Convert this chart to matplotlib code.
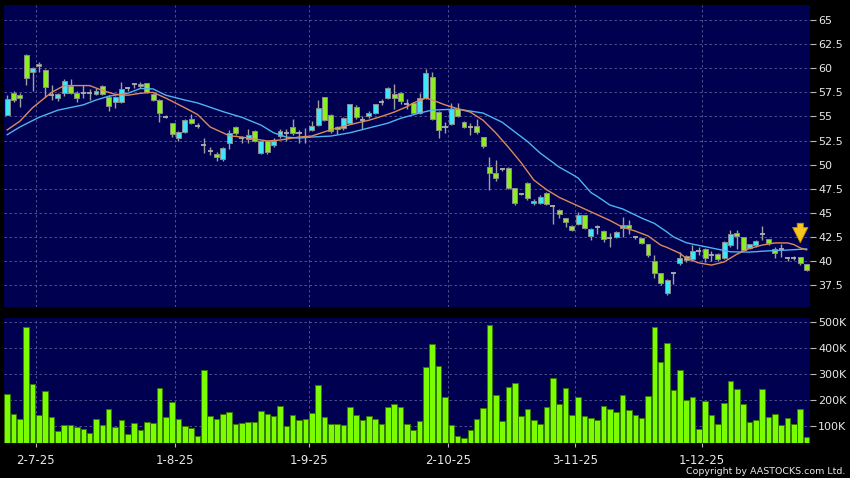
import matplotlib
matplotlib.use('Agg')
import matplotlib.pyplot as plt
import numpy as np
from matplotlib.ticker import FuncFormatter

# daily candles, 25-6-25 .. 24-12-25 (index 0 .. 126)
opens = [55.15, 57.45, 57.2, 61.4, 59.6, 60.4, 59.8, 57.2, 56.9, 57.4,
         58.18, 57.45, 57.4, 57.4, 57.29, 58.18, 57.04, 56.52, 56.45, 57.98,
         58.36, 58.18, 58.43, 57.29, 56.7, 54.95, 54.28, 52.79, 53.41, 54.73,
         54.05, 52.0, 51.44, 51.06, 50.54, 52.27, 53.93, 52.72, 52.68, 53.48,
         51.17, 52.44, 51.99, 52.96, 53.3, 53.86, 53.24, 52.83, 53.58, 54.1,
         56.97, 55.14, 53.93, 53.76, 54.34, 56.0, 54.62, 55.07, 55.32, 56.52,
         56.87, 57.32, 57.39, 56.25, 56.35, 55.38, 56.87, 59.05, 55.49, 53.93,
         54.2, 55.73, 54.45, 53.86, 54.03, 52.83, 49.71, 49.16, 49.5, 49.61,
         47.53, 47.0, 48.1, 45.98, 45.98, 47.08, 45.7, 45.3, 44.45, 43.62,
         43.83, 44.73, 42.58, 43.5, 43.14, 42.35, 42.51, 43.4, 43.68, 42.45,
         42.35, 41.72, 39.95, 38.71, 36.7, 38.71, 39.75, 40.51, 40.17, 41.06,
         41.2, 40.6, 40.69, 40.27, 41.65, 42.86, 42.45, 41.31, 41.65, 42.79,
         42.24, 41.2, 41.2, 40.3, 40.35, 40.37, 39.65]
highs = [57.2, 57.6, 57.4, 61.45, 60.1, 60.6, 59.9, 58.25, 57.4, 58.9,
         58.9, 57.6, 58.25, 57.8, 57.9, 58.3, 57.2, 57.1, 58.6, 58.1,
         58.5, 58.6, 58.5, 57.4, 56.8, 55.1, 54.3, 53.5, 54.7, 55.3,
         54.3, 52.8, 51.85, 51.3, 51.8, 53.6, 54.0, 53.0, 53.7, 53.6,
         52.5, 52.6, 52.8, 53.7, 53.7, 54.7, 53.6, 53.8, 54.5, 56.7,
         57.0, 55.2, 54.0, 54.9, 56.3, 56.2, 55.0, 55.6, 56.3, 56.8,
         58.1, 58.4, 57.5, 56.8, 56.4, 57.4, 59.9, 59.6, 55.6, 54.4,
         56.4, 56.4, 54.5, 54.3, 54.7, 52.9, 50.8, 50.5, 49.6, 49.7,
         47.6, 47.1, 48.2, 46.4, 46.8, 47.2, 45.8, 45.4, 44.5, 43.7,
         45.1, 44.8, 43.4, 43.7, 43.2, 42.9, 43.1, 44.6, 44.3, 42.6,
         42.4, 41.8, 40.6, 38.8, 38.1, 38.9, 40.9, 40.6, 41.7, 41.4,
         41.3, 41.0, 40.8, 42.1, 43.2, 43.2, 42.5, 41.8, 42.2, 43.6,
         42.3, 41.5, 41.8, 40.4, 40.5, 40.4, 39.7]
lows = [55.1, 56.5, 56.0, 58.25, 57.6, 59.6, 57.0, 56.7, 56.6, 57.1,
        57.3, 56.5, 56.9, 56.7, 57.2, 57.2, 55.6, 55.9, 56.4, 57.6,
        57.9, 57.9, 57.4, 56.6, 54.45, 54.8, 52.9, 52.5, 53.3, 54.2,
        53.8, 51.2, 51.0, 50.4, 50.4, 51.6, 53.1, 52.2, 52.2, 52.3,
        51.1, 51.1, 51.8, 52.8, 52.5, 53.1, 52.2, 52.2, 53.5, 54.0,
        54.5, 53.3, 53.2, 53.6, 54.2, 54.7, 53.7, 54.8, 55.2, 56.2,
        56.8, 55.8, 56.3, 55.8, 55.3, 55.2, 56.8, 54.6, 52.8, 53.3,
        54.1, 54.9, 53.8, 53.1, 53.2, 51.7, 47.4, 48.3, 49.3, 47.5,
        45.8, 46.8, 46.3, 45.8, 45.9, 45.8, 43.8, 44.5, 43.5, 43.1,
        43.7, 43.3, 42.2, 42.8, 42.0, 41.5, 42.4, 42.5, 42.8, 42.3,
        41.8, 40.4, 38.2, 37.5, 36.5, 37.6, 39.6, 39.9, 40.0, 40.6,
        39.9, 40.0, 40.0, 40.2, 41.5, 41.2, 41.0, 41.2, 41.5, 42.2,
        41.7, 40.3, 40.4, 40.0, 40.1, 39.6, 39.0]
closes = [56.85, 56.7, 56.9, 58.95, 60.0, 60.25, 58.1, 57.2, 57.3, 58.67,
          57.39, 56.87, 57.4, 57.4, 57.67, 57.29, 56.08, 56.97, 57.8, 57.98,
          58.36, 58.36, 57.5, 56.7, 55.32, 54.95, 53.14, 53.41, 54.59, 54.28,
          54.05, 52.0, 51.44, 50.75, 51.68, 53.24, 53.24, 52.72, 53.03, 52.44,
          52.44, 51.33, 52.44, 53.48, 53.3, 53.24, 53.24, 52.83, 54.0, 55.83,
          54.62, 53.48, 53.66, 54.8, 56.25, 54.97, 54.62, 55.32, 56.25, 56.52,
          57.9, 56.87, 56.63, 56.25, 55.38, 56.87, 59.47, 54.69, 53.58, 53.93,
          55.73, 55.04, 53.93, 53.86, 53.38, 51.96, 49.09, 48.57, 49.5, 47.6,
          45.98, 47.0, 46.5, 46.25, 46.66, 45.9, 45.7, 44.87, 44.07, 43.21,
          44.76, 43.38, 43.28, 43.5, 42.24, 42.35, 43.0, 43.68, 43.47, 42.45,
          41.89, 40.61, 38.71, 37.67, 38.02, 38.71, 40.27, 40.09, 41.03, 41.06,
          40.27, 40.6, 40.17, 41.99, 42.76, 42.58, 41.13, 41.72, 42.1, 42.79,
          41.83, 40.85, 41.2, 40.3, 40.35, 39.75, 39.06]
# volume in thousands of shares
volumes = [223, 147, 128, 482, 261, 141, 235, 134, 82, 103,
           103, 96, 90, 74, 127, 104, 166, 97, 124, 70,
           110, 85, 117, 112, 245, 136, 193, 127, 100, 93,
           61, 315, 137, 127, 145, 154, 109, 110, 117, 114,
           159, 147, 139, 178, 101, 144, 123, 126, 151, 259,
           136, 106, 106, 105, 175, 142, 122, 139, 128, 109,
           173, 184, 175, 109, 86, 119, 329, 417, 333, 212,
           103, 63, 52, 85, 128, 170, 490, 220, 119, 249,
           265, 140, 166, 122, 108, 172, 284, 185, 247, 141,
           211, 137, 130, 123, 176, 166, 154, 220, 161, 141,
           132, 216, 482, 348, 419, 238, 317, 202, 211, 87,
           198, 141, 108, 188, 275, 243, 184, 114, 124, 244,
           134, 146, 103, 130, 109, 167, 56]

# moving averages (day index, value)
ma10_days = [0, 2, 4, 7, 9, 13, 15, 17, 19, 21, 23, 25, 28, 30, 32, 35, 37, 39,
             41, 43, 46, 48, 50, 52, 55, 57, 59, 61, 63, 64, 66, 67, 69, 71, 73,
             75, 77, 79, 81, 83, 85, 87, 90, 92, 95, 97, 99, 101, 103, 104, 106,
             107, 109, 111, 113, 115, 117, 119, 121, 123, 124, 125, 126]
ma10_vals = [53.6, 54.5, 55.9, 57.5, 58.2, 58.2, 57.7, 57.3, 57.2, 57.4, 57.5,
             56.9, 55.9, 55.2, 53.9, 53.0, 52.85, 52.65, 52.45, 52.55, 52.86,
             52.96, 53.4, 53.8, 54.3, 54.6, 55.0, 55.45, 56.0, 56.4, 56.9, 56.7,
             56.2, 55.8, 55.45, 54.6, 53.3, 51.8, 50.2, 48.4, 47.4, 46.6, 45.7,
             45.1, 44.2, 43.5, 43.1, 42.6, 41.65, 41.4, 40.8, 40.3, 39.8, 39.57,
             39.9, 40.7, 41.3, 41.65, 41.87, 41.87, 41.7, 41.35, 41.15]
ma20_days = [0, 2, 5, 8, 12, 14, 16, 19, 21, 23, 25, 28, 30, 34, 37, 40, 42, 44,
             46, 48, 51, 54, 57, 60, 62, 65, 67, 71, 75, 78, 80, 82, 84, 87, 89,
             90, 92, 93, 95, 97, 100, 102, 104, 105, 106, 107, 108, 111, 114, 117,
             120, 123, 126]
ma20_vals = [53.1, 53.9, 54.9, 55.65, 56.2, 56.7, 57.1, 57.4, 57.9, 57.85, 57.2,
             56.7, 56.4, 55.5, 54.9, 54.1, 53.3, 52.85, 52.75, 52.86, 52.96, 53.3,
             53.8, 54.3, 54.8, 55.35, 55.66, 55.76, 55.35, 54.4, 53.4, 52.4, 51.2,
             49.74, 49.0, 48.6, 47.1, 46.7, 45.8, 45.4, 44.45, 43.9, 43.0, 42.5,
             42.2, 41.9, 41.75, 41.35, 40.95, 40.92, 41.05, 41.13, 41.25]

tick_days = [4, 26, 47, 69, 89, 109]
tick_labels = ['2-7-25', '1-8-25', '1-9-25', '2-10-25', '3-11-25', '1-12-25']

BG = '#000050'
UP = '#3de6f8'
DOWN = '#8cee20'
GRID = '#5c5c96'
TXT = '#e8e8e8'

fig = plt.figure(figsize=(8.5, 4.78), dpi=100, facecolor='black')
ax = fig.add_axes([0.0047, 0.3577, 0.948, 0.6318], facecolor=BG)
axv = fig.add_axes([0.0047, 0.0732, 0.948, 0.2615], facecolor=BG)

days = np.arange(len(opens))

# candles
for i in days:
    o, h, l, c = opens[i], highs[i], lows[i], closes[i]
    ax.vlines(i, l, h, color='#a0a0a0', lw=1, zorder=2)
    if c == o:
        ax.hlines(c, i - 0.4, i + 0.4, color='#b0b0b0', lw=1.3, zorder=3)
    else:
        col = UP if c > o else DOWN
        ax.bar(i, abs(c - o), bottom=min(o, c), width=0.78, color=col,
               edgecolor='#8c8c8c', lw=0.7, zorder=3)

ax.plot(ma20_days, ma20_vals, color='#4db4f0', lw=1.0, zorder=4)
ax.plot(ma10_days, ma10_vals, color='#dc8a5a', lw=1.0, zorder=4)

# marker arrow at the latest bar
ax.annotate('', xy=(days[-1] - 1, 41.6), xytext=(days[-1] - 1, 44.2),
            arrowprops=dict(arrowstyle='simple,head_length=1.0,head_width=1.0,tail_width=0.4',
                            fc='#f7c51c', ec='#c98a00', lw=0.6, mutation_scale=11),
            zorder=6)

ax.set_ylim(35.22, 66.56)
ax.set_yticks(np.arange(37.5, 65.1, 2.5))
ax.yaxis.set_major_formatter(FuncFormatter(lambda v, p: '%g' % v))

# volume
axv.bar(days, [v * 1000 for v in volumes], width=0.88, color='#7cfc00',
        edgecolor='#347a00', lw=0.7, zorder=3)
axv.set_ylim(34000, 517000)
axv.set_yticks([100000, 200000, 300000, 400000, 500000])
axv.yaxis.set_major_formatter(FuncFormatter(lambda v, p: '%dK' % (v / 1000)))

for a in (ax, axv):
    a.set_xlim(-0.5, len(opens) - 0.5)
    a.set_xticks([d + 0.5 for d in tick_days])
    a.grid(True, ls=(0, (3, 3)), color=GRID, lw=0.6, zorder=0)
    a.yaxis.tick_right()
    a.tick_params(axis='y', colors='#b8b8b8', labelcolor=TXT, labelsize=8,
                  length=4, width=0.8, pad=2)
    for s in a.spines.values():
        s.set_visible(False)

ax.tick_params(axis='x', length=0, labelbottom=False)
axv.set_xticklabels(tick_labels)
axv.tick_params(axis='x', colors='#b8b8b8', labelcolor=TXT, labelsize=8.5,
                length=3, width=0.8, pad=5)

fig.text(0.995, 0.0146, 'Copyright by AASTOCKS.com Ltd.', color=TXT,
         fontsize=6.8, ha='right', va='center')

fig.savefig('out.png', dpi=100, facecolor='black')
